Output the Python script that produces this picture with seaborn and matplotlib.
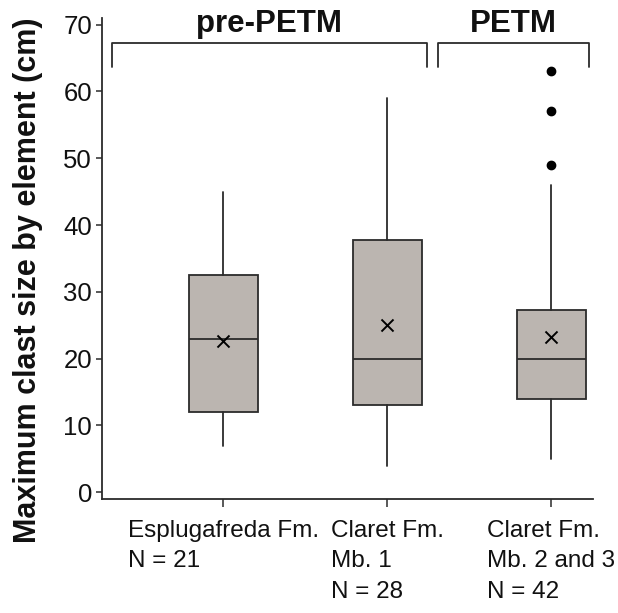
import matplotlib
matplotlib.use("Agg")
import matplotlib.pyplot as plt
import seaborn as sns

# values (cm)
groups = ["Esplugafreda Fm.\nN = 21", "Claret Fm.\nMb. 1\nN = 28", "Claret Fm.\nMb. 2 and 3\nN = 42"]
whisker_low = [7, 4, 5]
q1 = [12, 13, 14]
medians = [23, 20, 20]
q3 = [32.5, 37.7, 27.3]
whisker_high = [45, 59, 46]
means = [22.7, 25.0, 23.2]
outliers = [[], [], [49, 57, 63]]

sns.set_theme(style="ticks")
plt.rcParams['font.family'] = ['Liberation Sans', 'DejaVu Sans']

dark = '#2b2b2b'
box_fill = '#bbb5b0'

fig = plt.figure(figsize=(6.18, 6.13), dpi=100)
ax = fig.add_axes([0.1646, 0.186, 0.7945, 0.7847])

stats = []
for i in range(len(groups)):
    stats.append({'whislo': whisker_low[i], 'q1': q1[i], 'med': medians[i],
                  'q3': q3[i], 'whishi': whisker_high[i], 'fliers': outliers[i]})

positions = list(range(len(groups)))
ax.bxp(stats, positions=positions, widths=0.42, patch_artist=True, showcaps=False,
       boxprops=dict(facecolor=box_fill, edgecolor=dark, linewidth=1.3),
       medianprops=dict(color=dark, linewidth=1.3),
       whiskerprops=dict(color=dark, linewidth=1.3),
       flierprops=dict(marker='o', markerfacecolor='black', markeredgecolor='black',
                       markersize=6))

# means as crosses
sns.scatterplot(x=positions, y=means, marker='x', color='black', s=75,
                linewidth=1.4, ax=ax, zorder=5)

ax.set_xlim(-0.741, 2.253)
ax.set_ylim(-1.0, 71.0)
ax.set_yticks([0, 10, 20, 30, 40, 50, 60, 70])
ax.set_xticks(positions)
ax.set_xticklabels(groups, ha='center', multialignment='left', linespacing=1.5)
ax.tick_params(axis='y', labelsize=18.5, length=4, width=1.1, color=dark, pad=3, labelcolor='#111111')
ax.tick_params(axis='x', labelsize=17.5, length=6, width=1.1, color=dark, pad=9, labelcolor='#111111')

sns.despine(ax=ax)
for side in ['left', 'bottom']:
    ax.spines[side].set_color(dark)
    ax.spines[side].set_linewidth(1.3)

ax.set_ylabel('Maximum clast size by element (cm)', fontsize=22, fontweight='bold',
              color='#111111', va='center')
ax.yaxis.set_label_coords(-0.150, 0.455)

# period brackets above the boxes
brackets = [(-0.68, 1.24, 'pre-PETM'), (1.31, 2.23, 'PETM')]
for x0, x1, name in brackets:
    ax.plot([x0, x0, x1, x1], [63.7, 67.3, 67.3, 63.7], color=dark, linewidth=1.3,
            clip_on=False)
    ax.text((x0 + x1) / 2, 70.1, name, ha='center', va='center', fontsize=22.5,
            fontweight='bold', color='#111111', clip_on=False)

fig.savefig('out.png', dpi=100)
